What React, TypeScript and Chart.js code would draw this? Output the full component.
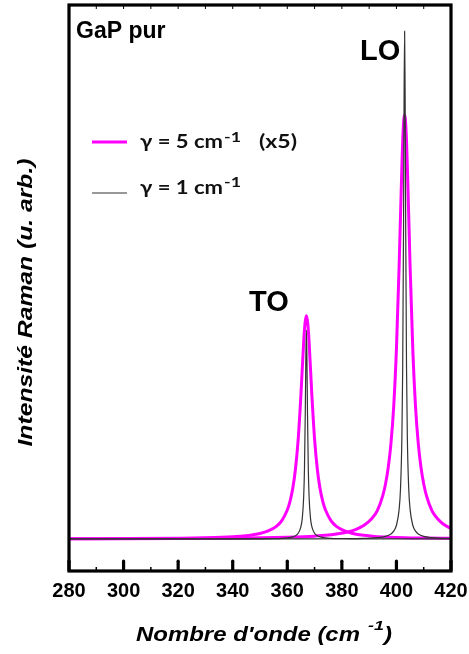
import React, { useEffect, useRef } from "react";
import { Chart, registerables } from "chart.js";

Chart.register(...registerables);

// ---------------- data ----------------
const xTicks = [280, 300, 320, 340, 360, 380, 400, 420];
const xMinorTicks = [290, 310, 330, 350, 370, 390, 410];

// gamma = 5 cm-1 (x5) : TO band
const wideToX = [280, 300, 320, 330, 340, 345, 350, 353, 356, 358, 360, 361, 362, 363, 364, 365, 366, 366.5, 367, 367.5, 368, 369, 370, 371, 372, 373, 374, 376, 378, 381, 384, 388, 392, 397, 403, 410, 420];
const wideToY = [0.04, 0.07, 0.14, 0.22, 0.41, 0.62, 1.03, 1.5, 2.37, 3.45, 5.41, 7.04, 9.43, 13.1, 18.7, 27.0, 36.8, 40.4, 41.8, 40.4, 36.8, 27.0, 18.7, 13.1, 9.43, 7.04, 5.41, 3.45, 2.37, 1.5, 1.03, 0.68, 0.48, 0.34, 0.23, 0.17, 0.11];

// gamma = 5 cm-1 (x5) : LO band
const wideLoX = [280, 300, 320, 340, 350, 360, 366, 370, 374, 378, 382, 385, 388, 391, 393, 395, 396, 397, 398, 399, 400, 401, 402, 402.5, 403, 403.5, 404, 405, 406, 407, 408, 409, 410, 411, 413, 415, 417, 420];
const wideLoY = [0.04, 0.05, 0.08, 0.15, 0.21, 0.31, 0.42, 0.53, 0.68, 0.92, 1.29, 1.75, 2.5, 3.83, 5.3, 8.12, 10.3, 13.4, 17.9, 24.8, 35.5, 51.2, 69.8, 76.8, 79.4, 76.8, 69.8, 51.2, 35.5, 24.8, 17.9, 13.4, 10.3, 8.12, 5.3, 3.83, 2.85, 1.95];

// gamma = 1 cm-1 : TO band
const narrowToX = [280, 320, 340, 350, 355, 358, 360, 362, 363, 364, 365, 365.5, 366, 366.3, 366.6, 366.8, 367, 367.2, 367.4, 367.7, 368, 368.5, 369, 370, 371, 372, 374, 376, 379, 384, 390, 400, 420];
const narrowToY = [0, 0, 0.01, 0.03, 0.07, 0.12, 0.2, 0.39, 0.6, 1.06, 2.3, 3.91, 7.82, 13.2, 23.8, 33.7, 39.1, 33.7, 23.8, 13.2, 7.82, 3.91, 2.3, 1.06, 0.6, 0.39, 0.2, 0.12, 0.07, 0.03, 0.02, 0.01, 0];

// gamma = 1 cm-1 : LO band
const narrowLoX = [280, 340, 370, 380, 388, 393, 396, 398, 399, 400, 401, 401.5, 402, 402.3, 402.6, 402.8, 403, 403.2, 403.4, 403.7, 404, 404.5, 405, 406, 407, 408, 410, 413, 416, 420];
const narrowLoY = [0, 0.01, 0.02, 0.04, 0.11, 0.24, 0.48, 0.94, 1.46, 2.57, 5.59, 9.51, 19.0, 32.1, 58.0, 82.0, 95.1, 82.0, 58.0, 32.1, 19.0, 9.51, 5.59, 2.57, 1.46, 0.94, 0.48, 0.24, 0.14, 0.08];

const legendLabels = ["γ = 5 cm", "γ = 1 cm"];
const legendSup = "-1";
const legendFactor = "(x5)";
const sampleLabel = "GaP pur";
const peakLabels = ["TO", "LO"];
const xTitle = "Nombre d'onde (cm";
const yTitle = "Intensité Raman (u. arb.)";

const WIDE_COLOR = "#ff00ff";
const NARROW_COLOR = "#333333";

function drawFit(ctx: CanvasRenderingContext2D, text: string, x: number, y: number, font: string, width?: number) {
  ctx.font = font;
  const w = ctx.measureText(text).width;
  const sx = width ? width / w : 1;
  ctx.save();
  ctx.translate(x, y);
  ctx.scale(sx, 1);
  ctx.fillText(text, 0, 0);
  ctx.restore();
}

function drawTicks(chart: any) {
  const ctx: CanvasRenderingContext2D = chart.ctx;
  const a = chart.chartArea;
  const xs = chart.scales.x;
  ctx.save();
  ctx.fillStyle = "#000000";
  for (const v of xTicks) {
    const px = xs.getPixelForValue(v);
    ctx.fillRect(px - 1.6, a.bottom - 10, 3.2, 10);
    ctx.beginPath();
    ctx.arc(px, a.bottom - 10, 1.6, 0, Math.PI * 2);
    ctx.fill();
    ctx.fillRect(px - 0.5, a.top, 1, 4);
  }
  for (const v of xMinorTicks) {
    const px = xs.getPixelForValue(v);
    ctx.fillRect(px - 0.75, a.bottom - 4, 1.5, 4);
    ctx.fillRect(px - 0.5, a.top, 1, 4);
  }
  ctx.restore();
}

const framePlugin = {
  id: "frameAndText",
  afterDraw(chart: any) {
    const ctx: CanvasRenderingContext2D = chart.ctx;
    const a = chart.chartArea;
    ctx.save();
    ctx.strokeStyle = "#000000";
    ctx.fillStyle = "#000000";

    // frame
    ctx.lineCap = "butt";
    ctx.lineWidth = 3.2;
    ctx.strokeRect(a.left, a.top, a.right - a.left, a.bottom - a.top);

    drawTicks(chart);

    // annotations
    ctx.fillStyle = "#000000";
    ctx.textAlign = "left";
    ctx.textBaseline = "alphabetic";
    drawFit(ctx, sampleLabel, 76, 38, "bold 23px 'Liberation Sans'");
    drawFit(ctx, peakLabels[0], 249, 311, "bold 29px 'Liberation Sans'");
    drawFit(ctx, peakLabels[1], 360, 60, "bold 29px 'Liberation Sans'");

    // legend
    const ds = chart.data.datasets;
    const rows = [
      { y: 142, base: 148, supBase: 141.5, color: ds[2].borderColor, lw: 3, label: legendLabels[0], factor: true },
      { y: 193, base: 193.5, supBase: 187, color: ds[0].borderColor, lw: 1.2, label: legendLabels[1], factor: false },
    ];
    for (const r of rows) {
      ctx.strokeStyle = r.color;
      ctx.lineWidth = r.lw;
      ctx.beginPath();
      ctx.moveTo(92, r.y);
      ctx.lineTo(127, r.y);
      ctx.stroke();
      ctx.fillStyle = "#111";
      drawFit(ctx, r.label, 140, r.base, "bold 19px Lato", 83);
      drawFit(ctx, legendSup, 224, r.supBase, "bold 13px Lato", 17);
      if (r.factor) drawFit(ctx, legendFactor, 259, r.base, "bold 19px Lato", 38);
    }

    // axis titles
    ctx.fillStyle = "#000";
    drawFit(ctx, xTitle, 136, 641, "italic bold 20px 'Liberation Sans'", 224);
    drawFit(ctx, legendSup, 368, 630, "italic bold 13px 'Liberation Sans'", 16);
    drawFit(ctx, ")", 384, 641, "italic bold 20px 'Liberation Sans'", 8);

    ctx.save();
    ctx.translate(32, 302.5);
    ctx.rotate(-Math.PI / 2);
    ctx.textAlign = "center";
    drawFit(ctx, yTitle, 0, 0, "italic bold 21px 'Liberation Sans'", 288);
    ctx.restore();

    ctx.restore();
  },
};

export default function App() {
  const ref = useRef<HTMLCanvasElement>(null);
  useEffect(() => {
    const canvas = ref.current!;
    const pts = (xs: number[], ys: number[]) => xs.map((x, i) => ({ x, y: ys[i] }));
    const chart = new Chart(canvas, {
      type: "line",
      data: {
        datasets: [
          { label: legendLabels[1], data: pts(narrowToX, narrowToY), borderColor: NARROW_COLOR, borderWidth: 1.2 },
          { label: legendLabels[1], data: pts(narrowLoX, narrowLoY), borderColor: NARROW_COLOR, borderWidth: 1.2 },
          { label: legendLabels[0], data: pts(wideToX, wideToY), borderColor: WIDE_COLOR, borderWidth: 3 },
          { label: legendLabels[0], data: pts(wideLoX, wideLoY), borderColor: WIDE_COLOR, borderWidth: 3 },
        ] as any,
      },
      options: {
        animation: false,
        responsive: false,
        maintainAspectRatio: false,
        layout: { padding: { top: 5, right: 18, left: 0, bottom: 0 } },
        elements: {
          point: { radius: 0 },
          line: { cubicInterpolationMode: "monotone", fill: false },
        },
        plugins: { legend: { display: false }, tooltip: { enabled: false } },
        scales: {
          x: {
            type: "linear",
            min: 280,
            max: 420,
            border: { display: false },
            grid: { display: false, drawTicks: false },
            afterBuildTicks: (s: any) => {
              s.ticks = xTicks.map((v) => ({ value: v }));
            },
            ticks: {
              font: { family: "'Liberation Sans'", weight: "bold", size: 20 },
              color: "#000",
              padding: 8,
              maxRotation: 0,
              autoSkip: false,
            },
            afterFit: (s: any) => {
              s.height = 83;
              s.paddingLeft = 0;
              s.paddingRight = 0;
            },
          },
          y: {
            type: "linear",
            min: -6,
            max: 100,
            border: { display: false },
            grid: { display: false, drawTicks: false },
            ticks: { display: false },
            afterFit: (s: any) => {
              s.width = 69;
            },
          },
        },
      } as any,
      plugins: [framePlugin],
    });
    return () => chart.destroy();
  }, []);
  return (
    <div style={{ position: "fixed", left: 0, top: 0, width: 469, height: 654, background: "#fff" }}>
      <canvas ref={ref} width={469} height={654} style={{ display: "block" }} />
    </div>
  );
}
